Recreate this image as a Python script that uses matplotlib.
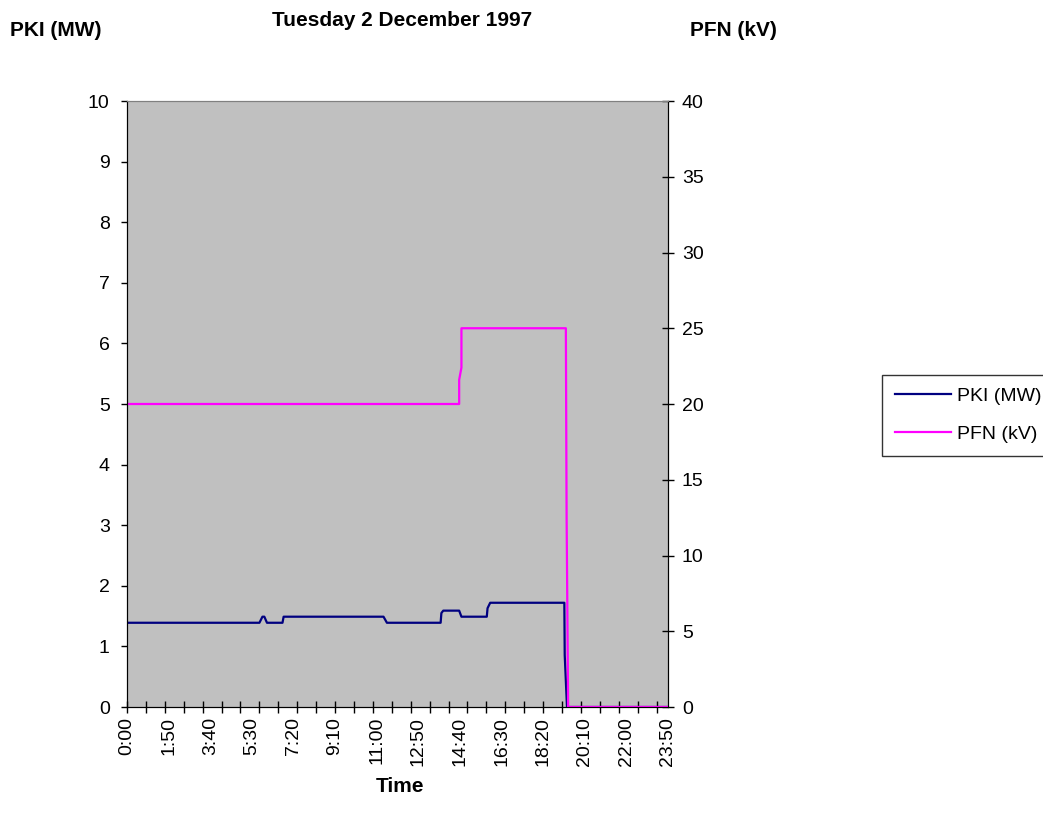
import numpy as np
import matplotlib.pyplot as plt

plt.rcParams['font.family'] = ['Liberation Sans', 'DejaVu Sans']

# Breakpoints of both series, time in minutes after midnight
pki_time = [0, 350, 358, 363, 370, 411, 414, 678, 687, 829, 831, 836, 878, 884, 951, 953, 960, 1156, 1157, 1163, 1430]
pki_mw = [1.39, 1.39, 1.49, 1.49, 1.39, 1.39, 1.49, 1.49, 1.39, 1.39, 1.55, 1.59, 1.59, 1.49, 1.49, 1.63, 1.72, 1.72, 0.86, 0.0, 0.0]

pfn_time = [0, 878, 878, 884, 884, 1160, 1162, 1166, 1430]
pfn_kv = [20, 20, 21.6, 22.4, 25, 25, 12.5, 0, 0]

label_minutes = list(range(0, 1431, 110))
label_text = ['%d:%02d' % (m // 60, m % 60) for m in label_minutes]
mark_minutes = list(range(0, 1431, 50))

W, H = 1043, 814
fig = plt.figure(figsize=(W / 100, H / 100), dpi=100)
ax = fig.add_axes([127 / W, 1 - 707 / H, (668 - 127) / W, (707 - 101) / H])
ax.set_facecolor('#c0c0c0')
ax2 = ax.twinx()

ax.plot(pki_time, pki_mw, color='#000080', lw=1.6, label='PKI (MW)')
ax2.plot(pfn_time, pfn_kv, color='#ff00ff', lw=1.6, label='PFN (kV)')

ax.set_xlim(0, 1430)
ax.set_ylim(0, 10)
ax2.set_ylim(0, 40)
ax.set_yticks(range(0, 11))
ax2.set_yticks(range(0, 41, 5))

ax.xaxis.remove_overlapping_locs = False
ax.set_xticks(label_minutes)
ax.set_xticklabels(label_text, rotation=90, fontsize=14)
ax.set_xticks(mark_minutes, minor=True)
ax.tick_params(axis='x', which='major', length=0, pad=7)
ax.tick_params(axis='x', which='minor', direction='inout', length=8, width=1, color='black')
ax.tick_params(axis='y', direction='out', length=4.5, width=1, labelsize=14, pad=8)
ax2.tick_params(axis='y', direction='inout', length=8, width=1, labelsize=14, pad=6)

for a in (ax, ax2):
    a.spines['top'].set_color('#808080')
    a.spines['bottom'].set_color('black')
    a.spines['left'].set_color('black')
    a.spines['right'].set_color('black')

fig.text(402 / W, 1 - 21 / H, 'Tuesday 2 December 1997', ha='center', va='center',
         fontsize=15, fontweight='bold')
fig.text(10 / W, 1 - 30 / H, 'PKI (MW)', ha='left', va='center', fontsize=15, fontweight='bold')
fig.text(690 / W, 1 - 30 / H, 'PFN (kV)', ha='left', va='center', fontsize=15, fontweight='bold')
fig.text(400 / W, 1 - 787 / H, 'Time', ha='center', va='center', fontsize=15, fontweight='bold')

handles = ax.get_lines() + ax2.get_lines()
leg = fig.legend(handles, [h.get_label() for h in handles], loc='upper left',
                 bbox_to_anchor=(882 / W, 1 - 375 / H), fontsize=14, frameon=True,
                 fancybox=False, edgecolor='black', handlelength=2.9, handletextpad=0.3,
                 borderpad=0.65, labelspacing=1.05, borderaxespad=0)
leg.get_frame().set_linewidth(1)

fig.savefig('out.png', dpi=100)
